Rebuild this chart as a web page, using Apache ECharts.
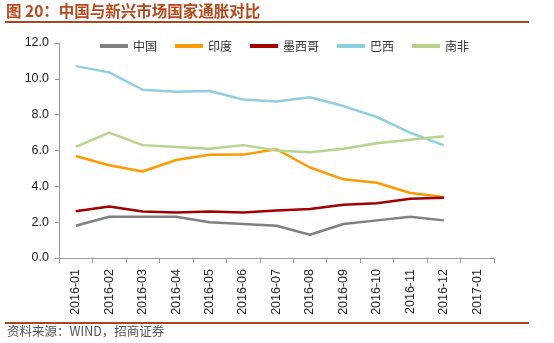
<!DOCTYPE html>
<html><head><meta charset="utf-8">
<script src="https://cdn.jsdelivr.net/npm/echarts@6/dist/echarts.min.js"></script>
<style>html,body{margin:0;padding:0;background:#fff}#c{width:554px;height:343px}</style>
</head><body><div id="c"></div>
<script>
const categories = ['2016-01','2016-02','2016-03','2016-04','2016-05','2016-06','2016-07','2016-08','2016-09','2016-10','2016-11','2016-12','2017-01'];
const seriesNames = ['中国','印度','墨西哥','巴西','南非'];
const china = [1.8,2.3,2.3,2.3,2.0,1.9,1.8,1.3,1.9,2.1,2.3,2.1,null];
const india = [5.69,5.18,4.83,5.47,5.76,5.77,6.07,5.05,4.39,4.20,3.63,3.41,null];
const mexico = [2.61,2.87,2.60,2.54,2.60,2.54,2.65,2.73,2.97,3.06,3.31,3.36,null];
const brazil = [10.71,10.36,9.39,9.28,9.32,8.84,8.74,8.97,8.48,7.87,6.99,6.29,null];
const southAfrica = [6.2,7.0,6.3,6.2,6.1,6.3,6.0,5.9,6.1,6.4,6.6,6.8,null];
const yTicks = [0,2,4,6,8,10,12];

const colors = ['#808080','#ff9900','#a00000','#8ecfe0','#b8d48c'];
const values = [china, india, mexico, brazil, southAfrica];
const chart = echarts.init(document.getElementById('c'));
chart.setOption({
  animation:false,
  color: colors,
  textStyle:{fontFamily:'Liberation Sans, Arial, sans-serif'},
  legend:{
    left:95, top:35, itemWidth:28, itemHeight:4, itemGap:18, icon:'rect',
    textStyle:{fontSize:12,color:'#333',fontFamily:'Noto Sans CJK SC'},
    data: seriesNames
  },
  grid:{left:59,right:60,top:43,bottom:85,containLabel:false,outerBoundsMode:'none'},
  xAxis:{
    type:'category', data:categories, boundaryGap:true,
    axisLine:{lineStyle:{color:'#999'}},
    axisTick:{show:true,interval:0,length:5,lineStyle:{color:'#999'}},
    axisLabel:{rotate:90,interval:0,fontSize:12.5,color:'#222',margin:11}
  },
  yAxis:{
    type:'value', min:yTicks[0], max:yTicks[yTicks.length-1], interval:2,
    splitLine:{show:false},
    axisLine:{show:true,lineStyle:{color:'#999'}},
    axisTick:{show:true,length:4,lineStyle:{color:'#999'}},
    axisLabel:{fontSize:12.5,color:'#222',margin:10,formatter:v=>v.toFixed(1)}
  },
  graphic:[
    {type:'text',left:6,top:3,style:{text:'图 20：中国与新兴市场国家通胀对比',fontSize:15.5,fontWeight:'bold',fill:'#b8481c',fontFamily:'Noto Sans CJK SC'}},
    {type:'rect',shape:{x:5,y:21,width:524,height:2},style:{fill:'#a9461b'}},
    {type:'rect',shape:{x:5,y:322,width:524,height:2},style:{fill:'#a9461b'}},
    {type:'text',left:7,top:325,style:{text:'资料来源：WIND，招商证券',fontSize:12.5,fill:'#555',fontFamily:'Noto Sans CJK SC'}}
  ],
  series: seriesNames.map((n,i)=>({
    name:n, type:'line', data:values[i], symbol:'none', smooth:false,
    lineStyle:{width:2.5,color:colors[i]}, itemStyle:{color:colors[i]}
  }))
});
</script></body></html>
